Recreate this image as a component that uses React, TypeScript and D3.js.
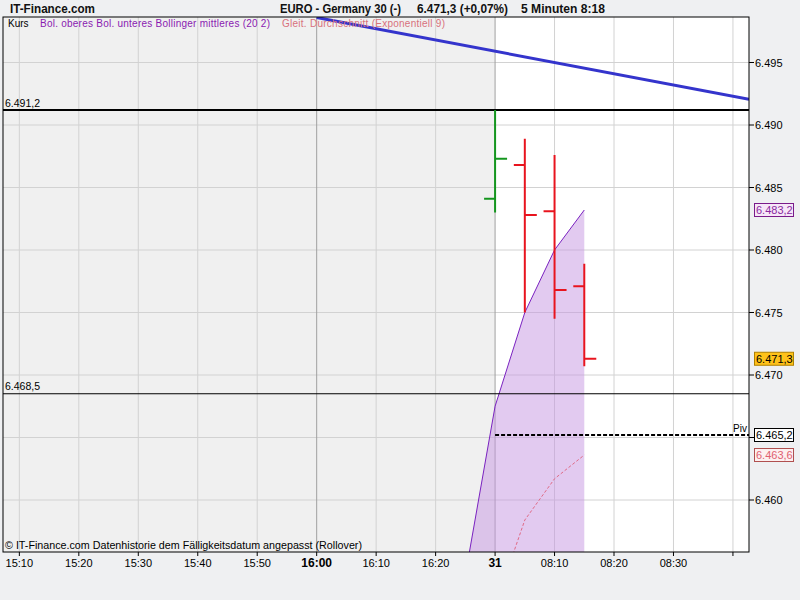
import React from "react";
import * as d3 from "d3";

// ---- data ----
const slots = ["15:10","15:15","15:20","15:25","15:30","15:35","15:40","15:45","15:50","15:55","16:00","16:05","16:10","16:15","16:20","16:25","08:00","08:05","08:10","08:15","08:20","08:25","08:30","08:35","08:40"];
const tickSlots = ["15:10","15:20","15:30","15:40","15:50","16:00","16:10","16:20","08:00","08:10","08:20","08:30","08:40"];
const tickLabels = ["15:10","15:20","15:30","15:40","15:50","16:00","16:10","16:20","31","08:10","08:20","08:30",""];
const boldTicks = ["16:00","31"];
const majorSlots = ["16:00","08:00"];
const yTicks = [6460, 6465, 6470, 6475, 6480, 6485, 6490, 6495];
const hiddenYLabels = [6465];

const barTimes = ["08:00","08:05","08:10","08:15"];
const opens = [6484.1, 6486.8, 6483.1, 6477.1];
const highs = [6491.2, 6488.9, 6487.6, 6478.9];
const lows = [6483.0, 6475.0, 6474.5, 6470.7];
const closes = [6487.3, 6482.8, 6476.8, 6471.3];

const bandTimes = ["16:25","08:00","08:05","08:10","08:15"];
const bandUpper = [6454.0, 6467.5, 6475.0, 6480.0, 6483.2];
const bandLower = [6418.0, 6424.0, 6430.0, 6436.0, 6440.0];

const emaTimes = ["08:00","08:05","08:10","08:15"];
const emaValues = [6451.5, 6458.4, 6461.7, 6463.6];

const trendTimes = ["16:00","08:40"];
const trendValues = [6498.6, 6492.3];

const levels = [6491.2, 6468.5];
const pivot = 6465.2;
const prevDaySplit = "08:00";

const locale = d3.formatLocale({ decimal: ",", thousands: ".", grouping: [3], currency: ["", "€"] });
const fmt0 = locale.format(",.0f");
const fmt1 = locale.format(",.1f");

const FONT = "'Liberation Sans', Arial, sans-serif";

export default function App() {
  const L = 3, R = 749, T = 17, B = 552;
  const idx = (s: string) => slots.indexOf(s);
  const x = d3.scaleLinear().domain([-0.55, 24.54]).range([L, R]);
  const y = d3.scaleLinear().domain([6455.84, 6498.64]).range([B, T]);
  const xs = (s: string) => x(idx(s));

  const upperPts: [number, number][] = bandTimes.map((t, i) => [xs(t), y(bandUpper[i])]);
  const area = d3.area<number>()
    .x((i) => xs(bandTimes[i]))
    .y0((i) => y(bandLower[i]))
    .y1((i) => y(bandUpper[i]));
  const upperLine = d3.line()(upperPts) || "";
  const emaLine = d3.line()(emaTimes.map((t, i) => [xs(t), y(emaValues[i])] as [number, number])) || "";

  // trend line extended to right edge
  const i0 = idx(trendTimes[0]), i1 = idx(trendTimes[1]);
  const slope = (trendValues[1] - trendValues[0]) / (i1 - i0);
  const iEnd = x.invert(R);
  const trendPath = d3.line()([[x(i0), y(trendValues[0])], [R, y(trendValues[0] + slope * (iEnd - i0))]]) || "";

  const splitX = xs(prevDaySplit);
  const lastIdx = barTimes.length - 1;

  const valueBoxes = [
    { v: bandUpper[bandUpper.length - 1], fill: "#f6e6f8", stroke: "#7a1a8a", color: "#8a2aa0" },
    { v: closes[lastIdx], fill: "#ffc21a", stroke: "#b08000", color: "#000" },
    { v: pivot, fill: "#ffffff", stroke: "#000", color: "#000" },
    { v: emaValues[emaValues.length - 1], fill: "#fdf0f0", stroke: "#b05050", color: "#e06070" },
  ];

  return (
    <svg width={800} height={600} style={{ position: "absolute", left: 0, top: 0, background: "#eff0f2" }} fontFamily={FONT}>
      <defs>
        <clipPath id="plot"><rect x={L} y={T} width={R - L} height={B - T} /></clipPath>
      </defs>
      <rect x={0} y={0} width={800} height={600} fill="#eff0f2" />
      {/* plot backgrounds */}
      <rect x={L} y={T} width={R - L} height={B - T} fill="#ffffff" />
      <rect x={L} y={T} width={splitX - L} height={B - T} fill="#f0f0f0" />

      {/* grid */}
      {yTicks.map((v) => (
        <line key={"gy" + v} x1={L} x2={R} y1={y(v)} y2={y(v)} stroke="#d2d2d2" strokeWidth={1} />
      ))}
      {tickSlots.map((s) => (
        <line key={"gx" + s} x1={xs(s)} x2={xs(s)} y1={T} y2={B}
          stroke={majorSlots.includes(s) ? "#a0a0a0" : "#d2d2d2"} strokeWidth={1} />
      ))}

      <g clipPath="url(#plot)">
        {/* bollinger band */}
        <path d={area(bandTimes.map((_, i) => i)) || ""} fill="rgb(198,150,226)" fillOpacity={0.5} />
        <path d={upperLine} fill="none" stroke="#7a22c0" strokeWidth={1} />
        <path d={emaLine} fill="none" stroke="#e06a86" strokeWidth={1} strokeDasharray="3,2" />

        {/* levels */}
        <line x1={L} x2={R} y1={y(levels[0])} y2={y(levels[0])} stroke="#000" strokeWidth={2} />
        <line x1={L} x2={R} y1={y(levels[1])} y2={y(levels[1])} stroke="#000" strokeWidth={1} />
        <line x1={splitX} x2={R} y1={y(pivot)} y2={y(pivot)} stroke="#000" strokeWidth={2} strokeDasharray="4,2" />

        {/* trend */}
        <path d={trendPath} fill="none" stroke="#3434cc" strokeWidth={3} />

        {/* OHLC bars */}
        {barTimes.map((t, i) => {
          const cx = xs(t);
          const col = closes[i] >= opens[i] ? "#14961e" : "#e8141e";
          return (
            <g key={"b" + t} stroke={col} strokeWidth={2}>
              <line x1={cx} x2={cx} y1={y(highs[i])} y2={y(lows[i])} />
              <line x1={cx - 11} x2={cx} y1={y(opens[i])} y2={y(opens[i])} />
              <line x1={cx} x2={cx + 12} y1={y(closes[i])} y2={y(closes[i])} />
            </g>
          );
        })}
      </g>

      {/* level labels */}
      {levels.map((v) => (
        <text key={"lv" + v} x={5} y={y(v) - 3.5} fontSize={10.5} fill="#000">{fmt1(v)}</text>
      ))}
      <text x={747} y={y(pivot) - 3} fontSize={10} textAnchor="end" fill="#000">Piv</text>

      {/* plot border */}
      <rect x={L} y={T} width={R - L} height={B - T} fill="none" stroke="#000" strokeWidth={1} />

      {/* legend */}
      <text x={8} y={27} fontSize={10} fill="#000">Kurs</text>
      <text x={40} y={27} fontSize={10} fill="#8a1ab0" textLength={230} lengthAdjust="spacing">Bol. oberes Bol. unteres Bollinger mittleres (20 2)</text>
      <text x={282} y={27} fontSize={10} fill="#d8707c" textLength={163} lengthAdjust="spacing">Gleit. Durchschnitt (Exponentiell 9)</text>

      {/* right axis */}
      {yTicks.map((v) => (
        <g key={"ry" + v}>
          <line x1={R} x2={R + 5} y1={y(v)} y2={y(v)} stroke="#000" />
          {!hiddenYLabels.includes(v) && (
            <text x={755} y={y(v) + 4} fontSize={11} fill="#000">{fmt0(v)}</text>
          )}
        </g>
      ))}
      {valueBoxes.map((b) => (
        <g key={"vb" + b.v}>
          <rect x={754.5} y={y(b.v) - 6.5} width={39} height={13} fill={b.fill} stroke={b.stroke} strokeWidth={1} />
          <text x={756} y={y(b.v) + 4} fontSize={11} fill={b.color}>{fmt1(b.v)}</text>
        </g>
      ))}

      {/* x axis */}
      {tickSlots.map((s, i) => (
        <g key={"xt" + s}>
          <line x1={xs(s)} x2={xs(s)} y1={B} y2={B + 4} stroke="#000" />
          <text x={xs(s)} y={567} textAnchor="middle" fill="#000"
            fontWeight={boldTicks.includes(tickLabels[i]) ? "bold" : "normal"}
            fontSize={boldTicks.includes(tickLabels[i]) ? 12 : 11}>{tickLabels[i]}</text>
        </g>
      ))}

      {/* footnote */}
      <text x={5} y={549} fontSize={11} fill="#000" textLength={357} lengthAdjust="spacingAndGlyphs">© IT-Finance.com  Datenhistorie dem Fälligkeitsdatum angepasst (Rollover)</text>

      {/* header */}
      <text x={10} y={13} fontSize={12.5} fontWeight="bold" fill="#111" textLength={85} lengthAdjust="spacingAndGlyphs">IT-Finance.com</text>
      <text x={280} y={13} fontSize={12.5} fontWeight="bold" fill="#111" textLength={121} lengthAdjust="spacingAndGlyphs">EURO - Germany 30 (-)</text>
      <text x={417} y={13} fontSize={12.5} fontWeight="bold" fill="#111" textLength={91} lengthAdjust="spacingAndGlyphs">{fmt1(closes[lastIdx])} (+0,07%)</text>
      <text x={521} y={13} fontSize={12.5} fontWeight="bold" fill="#111" textLength={84} lengthAdjust="spacingAndGlyphs">5 Minuten  8:18</text>
    </svg>
  );
}
